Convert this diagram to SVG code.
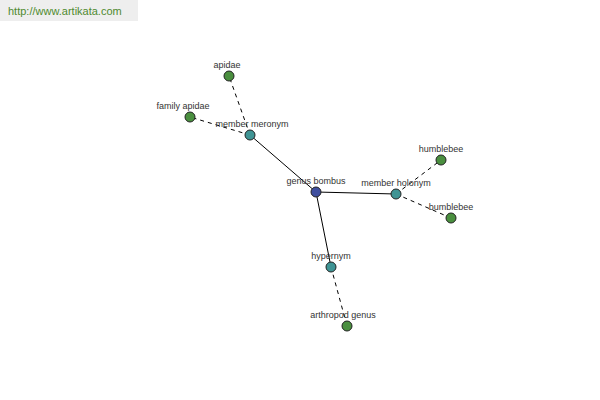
<svg xmlns="http://www.w3.org/2000/svg" width="600" height="400" viewBox="0 0 600 400">
<style>
.lbl{font-family:"Liberation Sans",Arial,sans-serif;font-size:9px;fill:#333;text-anchor:middle}
.solid{stroke:#000;stroke-width:1;fill:none}
.dash{stroke:#000;stroke-width:1;fill:none;stroke-dasharray:4,4}
.n{stroke:#222;stroke-width:1}
.c{fill:#3f4f9f}
.t{fill:#3f9494}
.g{fill:#4a8f3f}
</style>
<rect x="0" y="0" width="138" height="21" fill="#eeeeee"/>
<text x="8" y="15" style="font-family:'Liberation Sans',Arial,sans-serif;font-size:11px;fill:#4f8a2f">http://www.artikata.com</text>
<g id="connectors">
<line class="solid" x1="316" y1="192" x2="250" y2="135"/>
<line class="solid" x1="316" y1="192" x2="396" y2="194"/>
<line class="solid" x1="316" y1="192" x2="331" y2="267"/>
<line class="dash" x1="250" y1="135" x2="229" y2="76"/>
<line class="dash" x1="250" y1="135" x2="190" y2="117"/>
<line class="dash" x1="396" y1="194" x2="441" y2="160"/>
<line class="dash" x1="396" y1="194" x2="451" y2="218"/>
<line class="dash" x1="331" y1="267" x2="347" y2="326"/>
</g>
<g id="genus-bombus"><circle class="n c" cx="316" cy="192" r="5"/><text class="lbl" x="316" y="184">genus bombus</text></g>
<g id="member-meronym"><circle class="n t" cx="250" cy="135" r="5"/><text class="lbl" x="252" y="127">member meronym</text></g>
<g id="apidae"><circle class="n g" cx="229" cy="76" r="5"/><text class="lbl" x="227" y="68">apidae</text></g>
<g id="family-apidae"><circle class="n g" cx="190" cy="117" r="5"/><text class="lbl" x="183" y="109">family apidae</text></g>
<g id="member-holonym"><circle class="n t" cx="396" cy="194" r="5"/><text class="lbl" x="396" y="186">member holonym</text></g>
<g id="humblebee"><circle class="n g" cx="441" cy="160" r="5"/><text class="lbl" x="441" y="152">humblebee</text></g>
<g id="bumblebee"><circle class="n g" cx="451" cy="218" r="5"/><text class="lbl" x="451" y="210">bumblebee</text></g>
<g id="hypernym"><circle class="n t" cx="331" cy="267" r="5"/><text class="lbl" x="331" y="259">hypernym</text></g>
<g id="arthropod-genus"><circle class="n g" cx="347" cy="326" r="5"/><text class="lbl" x="343" y="318">arthropod genus</text></g>
</svg>
